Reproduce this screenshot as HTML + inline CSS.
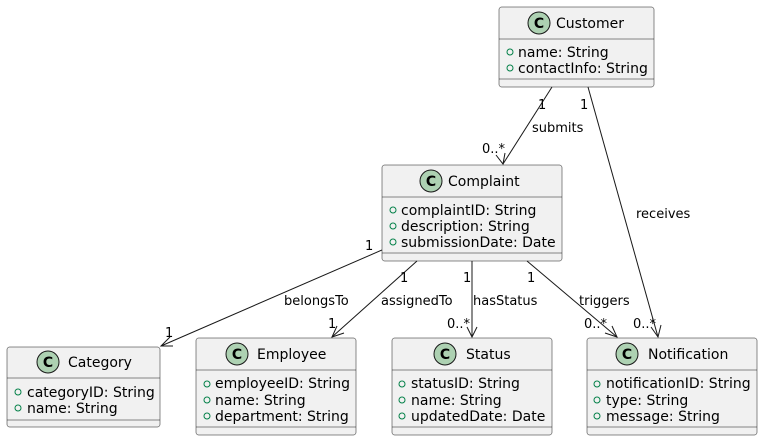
<!DOCTYPE html>
<html><head><meta charset="utf-8"><style>
html,body{margin:0;padding:0;background:#fff;}
svg{display:block;font-family:"DejaVu Sans","Liberation Sans",sans-serif;}
.b{fill:#F1F1F1;stroke:#181818;stroke-width:0.5;}
.s{stroke:#181818;stroke-width:0.5;}
.t{font-size:14px;fill:#000;}
.a{font-size:14px;fill:#000;}
.l{font-size:13px;fill:#000;}
.e{stroke:#181818;stroke-width:1;fill:none;}
.v{fill:none;stroke:#038048;stroke-width:1;}
</style></head><body>
<svg width="763" height="441" viewBox="0 0 763 441" xmlns="http://www.w3.org/2000/svg">
<defs>
<g id="ci"><circle cx="0" cy="0" r="11" fill="#ADD1B2" stroke="#181818" stroke-width="1"/><text x="0" y="5" text-anchor="middle" font-weight="bold" font-size="14" fill="#000">C</text></g>
</defs>

<!-- Customer -->
<rect class="b" x="499" y="7" width="155" height="80" rx="2.5"/>
<line class="s" x1="499" y1="39" x2="654" y2="39"/><line class="s" x1="499" y1="79" x2="654" y2="79"/>
<use href="#ci" x="539" y="23"/><text class="t" x="556" y="28">Customer</text>
<circle class="v" cx="510" cy="52" r="3"/><text class="a" x="518" y="57">name: String</text>
<circle class="v" cx="510" cy="68" r="3"/><text class="a" x="518" y="73">contactInfo: String</text>

<!-- Complaint -->
<rect class="b" x="382" y="165" width="180" height="96" rx="2.5"/>
<line class="s" x1="382" y1="197" x2="562" y2="197"/><line class="s" x1="382" y1="253" x2="562" y2="253"/>
<use href="#ci" x="431" y="181"/><text class="t" x="448" y="186">Complaint</text>
<circle class="v" cx="393" cy="210" r="3"/><text class="a" x="401" y="215">complaintID: String</text>
<circle class="v" cx="393" cy="226" r="3"/><text class="a" x="401" y="231">description: String</text>
<circle class="v" cx="393" cy="242" r="3"/><text class="a" x="401" y="247">submissionDate: Date</text>

<!-- Category -->
<rect class="b" x="7" y="347" width="153" height="80" rx="2.5"/>
<line class="s" x1="7" y1="378" x2="160" y2="378"/><line class="s" x1="7" y1="420" x2="160" y2="420"/>
<use href="#ci" x="48" y="362"/><text class="t" x="68" y="367">Category</text>
<circle class="v" cx="18" cy="392" r="3"/><text class="a" x="27" y="397">categoryID: String</text>
<circle class="v" cx="18" cy="408" r="3"/><text class="a" x="27" y="413">name: String</text>

<!-- Employee -->
<rect class="b" x="196" y="338" width="160" height="97" rx="2.5"/>
<line class="s" x1="196" y1="370" x2="356" y2="370"/><line class="s" x1="196" y1="427" x2="356" y2="427"/>
<use href="#ci" x="237" y="354"/><text class="t" x="257" y="359">Employee</text>
<circle class="v" cx="207" cy="384" r="3"/><text class="a" x="215" y="388">employeeID: String</text>
<circle class="v" cx="207" cy="400" r="3"/><text class="a" x="215" y="405">name: String</text>
<circle class="v" cx="207" cy="416" r="3"/><text class="a" x="215" y="421">department: String</text>

<!-- Status -->
<rect class="b" x="392" y="338" width="160" height="97" rx="2.5"/>
<line class="s" x1="392" y1="370" x2="552" y2="370"/><line class="s" x1="392" y1="427" x2="552" y2="427"/>
<use href="#ci" x="445" y="354"/><text class="t" x="466" y="359">Status</text>
<circle class="v" cx="402" cy="384" r="3"/><text class="a" x="411" y="388">statusID: String</text>
<circle class="v" cx="402" cy="400" r="3"/><text class="a" x="411" y="405">name: String</text>
<circle class="v" cx="402" cy="416" r="3"/><text class="a" x="411" y="421">updatedDate: Date</text>

<!-- Notification -->
<rect class="b" x="587" y="338" width="170" height="97" rx="2.5"/>
<line class="s" x1="587" y1="370" x2="757" y2="370"/><line class="s" x1="587" y1="427" x2="757" y2="427"/>
<use href="#ci" x="627" y="354"/><text class="t" x="648" y="359">Notification</text>
<circle class="v" cx="597" cy="384" r="3"/><text class="a" x="606" y="388">notificationID: String</text>
<circle class="v" cx="597" cy="400" r="3"/><text class="a" x="606" y="405">type: String</text>
<circle class="v" cx="597" cy="416" r="3"/><text class="a" x="606" y="421">message: String</text>

<!-- edges -->
<line class="e" x1="552" y1="87" x2="503" y2="164"/>
<polyline class="e" points="496,155 503,164 505,153"/>
<line class="e" x1="588" y1="87" x2="658" y2="337"/>
<polyline class="e" points="651,327 658,337 661,325"/>
<line class="e" x1="382" y1="250" x2="161" y2="346"/>
<polyline class="e" points="170,337 161,346 173,346"/>
<line class="e" x1="417" y1="261" x2="332" y2="337"/>
<polyline class="e" points="337,326 332,337 344,333"/>
<line class="e" x1="472" y1="261" x2="472" y2="337"/>
<polyline class="e" points="467,327 472,337 477,327"/>
<line class="e" x1="527" y1="261" x2="617" y2="337"/>
<polyline class="e" points="605,333 617,337 612,326"/>

<!-- labels -->
<text class="l" x="538" y="109">1</text>
<text class="l" x="580" y="109">1</text>
<text class="l" x="532" y="132">submits</text>
<text class="l" x="482" y="153">0..*</text>
<text class="l" x="636" y="218">receives</text>
<text class="l" x="365" y="250">1</text>
<text class="l" x="284" y="305">belongsTo</text>
<text class="l" x="165" y="337">1</text>
<text class="l" x="400" y="282">1</text>
<text class="l" x="381" y="305">assignedTo</text>
<text class="l" x="328" y="328">1</text>
<text class="l" x="463" y="282">1</text>
<text class="l" x="473" y="305">hasStatus</text>
<text class="l" x="447" y="328">0..*</text>
<text class="l" x="527" y="282">1</text>
<text class="l" x="579" y="305">triggers</text>
<text class="l" x="584" y="328">0..*</text>
<text class="l" x="633" y="328">0..*</text>
</svg>
</body></html>
